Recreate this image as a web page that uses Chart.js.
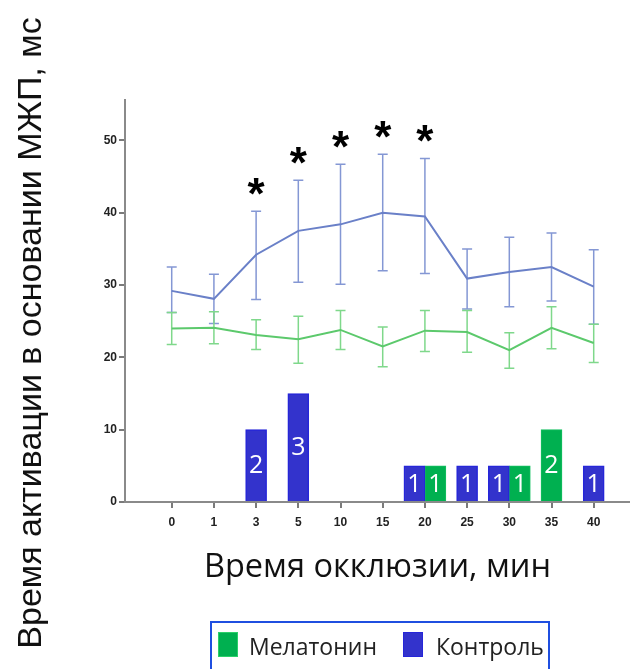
<!DOCTYPE html>
<html>
<head>
<meta charset="utf-8">
<script src="https://cdn.jsdelivr.net/npm/chart.js@4.4.1/dist/chart.umd.min.js"></script>
<style>
  html, body { margin: 0; padding: 0; background: #fff; }
  #wrap { position: relative; width: 630px; height: 669px; overflow: hidden; }
  #legend {
    position: absolute; left: 210px; top: 621px; width: 336px; height: 60px;
    border: 2px solid #1f4fe0; box-sizing: content-box;
    font-family: "Open Sans", sans-serif; font-size: 23px; color: #222;
  }
  #legend .box { position: absolute; top: 9px; width: 20px; height: 25px; box-sizing: border-box; }
  #legend .txt { position: absolute; top: 11px; line-height: 25px; white-space: nowrap; }
</style>
</head>
<body>
<div id="wrap">
  <canvas id="chart" width="630" height="669"></canvas>
  <div id="legend">
    <div class="box" style="left:6px;background:#00b050;border:1px solid #2ccf6a;"></div>
    <span class="txt" style="left:37px;">Мелатонин</span>
    <div class="box" style="left:191px;background:#3333cc;border:1.5px solid #2626d9;"></div>
    <span class="txt" style="left:224px;">Контроль</span>
  </div>
</div>
<script>
// occlusion time points
const timeLabels = ['0', '1', '3', '5', '10', '15', '20', '25', '30', '35', '40'];

// control group: mean and error bar ends
const controlMean = [29.2, 28.1, 34.2, 37.5, 38.4, 40.0, 39.5, 30.9, 31.8, 32.5, 29.8];
const controlHigh = [32.5, 31.5, 40.2, 44.5, 46.7, 48.1, 47.5, 35.0, 36.6, 37.2, 34.9];
const controlLow  = [26.2, 24.7, 28.0, 30.4, 30.1, 32.0, 31.6, 26.7, 27.0, 27.8, 24.6];

// melatonin group: mean and error bar ends
const melatoninMean = [24.0, 24.1, 23.1, 22.5, 23.8, 21.5, 23.7, 23.5, 21.0, 24.1, 22.0];
const melatoninHigh = [26.2, 26.3, 25.2, 25.7, 26.5, 24.2, 26.5, 26.5, 23.4, 27.0, 24.6];
const melatoninLow  = [21.8, 21.9, 21.1, 19.2, 21.1, 18.7, 20.8, 20.7, 18.5, 21.2, 19.3];

// number of cases shown as bars (each case = 5 units on the y axis)
const controlCases   = [null, null, 2, 3, null, null, 1, 1, 1, null, 1];
const melatoninCases = [null, null, null, null, null, null, 1, null, 1, 2, null];
const casesUnit = 5;

// points marked with *
const significant = [false, false, true, true, true, true, true, false, false, false, false];

const yTicks = [0, 10, 20, 30, 40, 50];

const xy = (arr) => arr.map((v, i) => ({ x: i, y: v }));
const caseBars = (arr) => arr.map((c, i) => ({ x: i, y: c == null ? null : c * casesUnit }));

// whiskers with caps for the line datasets
const errorBars = {
    id: 'errorBars',
    beforeDatasetsDraw(chart) {
        const { ctx, scales: { x, y } } = chart;
        chart.data.datasets.forEach((ds) => {
            if (!ds.errLow) return;
            ctx.save();
            ctx.strokeStyle = ds.errColor;
            ctx.lineWidth = 1.5;
            ds.errLow.forEach((lo, i) => {
                const px = x.getPixelForValue(i);
                const yl = y.getPixelForValue(lo);
                const yh = y.getPixelForValue(ds.errHigh[i]);
                ctx.beginPath();
                ctx.moveTo(px, yl); ctx.lineTo(px, yh);
                ctx.moveTo(px - 5, yl); ctx.lineTo(px + 5, yl);
                ctx.moveTo(px - 5, yh); ctx.lineTo(px + 5, yh);
                ctx.stroke();
            });
            ctx.restore();
        });
    }
};

// white case counts inside bars, asterisks above control whiskers
const annotations = {
    id: 'annotations',
    afterDatasetsDraw(chart) {
        const { ctx, scales: { x, y } } = chart;
        ctx.save();
        ctx.fillStyle = '#fff';
        ctx.font = '25px "Open Sans"';
        ctx.textAlign = 'center';
        ctx.textBaseline = 'middle';
        chart.data.datasets.forEach((ds, di) => {
            if (!ds.cases) return;
            chart.getDatasetMeta(di).data.forEach((bar, i) => {
                if (ds.cases[i] == null) return;
                ctx.fillText(String(ds.cases[i]), bar.x, (bar.y + bar.base) / 2 + 1);
            });
        });

        ctx.fillStyle = '#000';
        ctx.font = 'bold 44px "Liberation Sans"';
        const m = ctx.measureText('*');
        const shift = (m.actualBoundingBoxAscent - m.actualBoundingBoxDescent) / 2;
        ctx.textBaseline = 'alphabetic';
        significant.forEach((s, i) => {
            if (!s) return;
            const cy = y.getPixelForValue(controlHigh[i]) - 12.5;
            ctx.fillText('*', x.getPixelForValue(i), cy + shift);
        });
        ctx.restore();
    }
};

// rotated y axis title, placed independently of the plot area
const sideTitle = {
    id: 'sideTitle',
    afterDraw(chart) {
        const { ctx } = chart;
        ctx.save();
        ctx.translate(32, 333);
        ctx.rotate(-Math.PI / 2);
        ctx.fillStyle = '#111';
        ctx.font = '34px "Liberation Sans"';
        ctx.textAlign = 'center';
        ctx.textBaseline = 'middle';
        ctx.fillText('Время активации в основании МЖП, мс', 0, 0);
        ctx.restore();
    }
};

const ctx = document.getElementById('chart').getContext('2d');
const chart = new Chart(ctx, {
    data: {
        datasets: [
            {
                type: 'line',
                label: 'Контроль',
                data: xy(controlMean),
                borderColor: '#6a80c8',
                borderWidth: 2,
                pointRadius: 0,
                tension: 0,
                errLow: controlLow,
                errHigh: controlHigh,
                errColor: '#8497d4'
            },
            {
                type: 'line',
                label: 'Мелатонин',
                data: xy(melatoninMean),
                borderColor: '#5cc96c',
                borderWidth: 2,
                pointRadius: 0,
                tension: 0,
                errLow: melatoninLow,
                errHigh: melatoninHigh,
                errColor: '#7fd88b'
            },
            {
                type: 'bar',
                label: 'Контроль',
                data: caseBars(controlCases),
                cases: controlCases,
                backgroundColor: '#3333cc',
                borderColor: '#2626d9',
                borderWidth: 1.5,
                barThickness: 21,
                skipNull: true
            },
            {
                type: 'bar',
                label: 'Мелатонин',
                data: caseBars(melatoninCases),
                cases: melatoninCases,
                backgroundColor: '#00b050',
                borderColor: '#14c060',
                borderWidth: 1,
                barThickness: 21,
                skipNull: true
            }
        ]
    },
    options: {
        responsive: false,
        animation: false,
        devicePixelRatio: 1,
        layout: { padding: { top: 100, left: 0, right: 0, bottom: 0 } },
        plugins: {
            legend: { display: false },
            tooltip: { enabled: false }
        },
        scales: {
            x: {
                type: 'linear',
                offset: false,
                min: -1.107,
                max: 10.86,
                afterBuildTicks: (scale) => { scale.ticks = timeLabels.map((_, i) => ({ value: i })); },
                afterFit: (scale) => { scale.height = 167; },
                ticks: {
                    autoSkip: false,
                    maxRotation: 0,
                    padding: 7,
                    color: '#222',
                    font: { family: 'Liberation Sans', size: 12, weight: 'bold' },
                    callback: (v) => timeLabels[v]
                },
                grid: { offset: false, drawOnChartArea: false, tickLength: 6, color: '#7a7a7a', lineWidth: 2 },
                border: { display: true, color: '#8a8a8a', width: 2 },
                title: {
                    display: true,
                    text: 'Время окклюзии, мин',
                    color: '#111',
                    font: { family: 'Open Sans', size: 32.5 },
                    padding: { top: 0, bottom: 82 }
                }
            },
            y: {
                min: 0,
                max: 55.6,
                afterBuildTicks: (scale) => { scale.ticks = yTicks.map((v) => ({ value: v })); },
                afterFit: (scale) => { scale.width = 125; },
                ticks: {
                    padding: 2,
                    color: '#222',
                    font: { family: 'Liberation Sans', size: 12, weight: 'bold' }
                },
                grid: { drawOnChartArea: false, tickLength: 6, color: '#7a7a7a', lineWidth: 2 },
                border: { display: true, color: '#8a8a8a', width: 2 }
            }
        }
    },
    plugins: [errorBars, annotations, sideTitle]
});
</script>
</body>
</html>
